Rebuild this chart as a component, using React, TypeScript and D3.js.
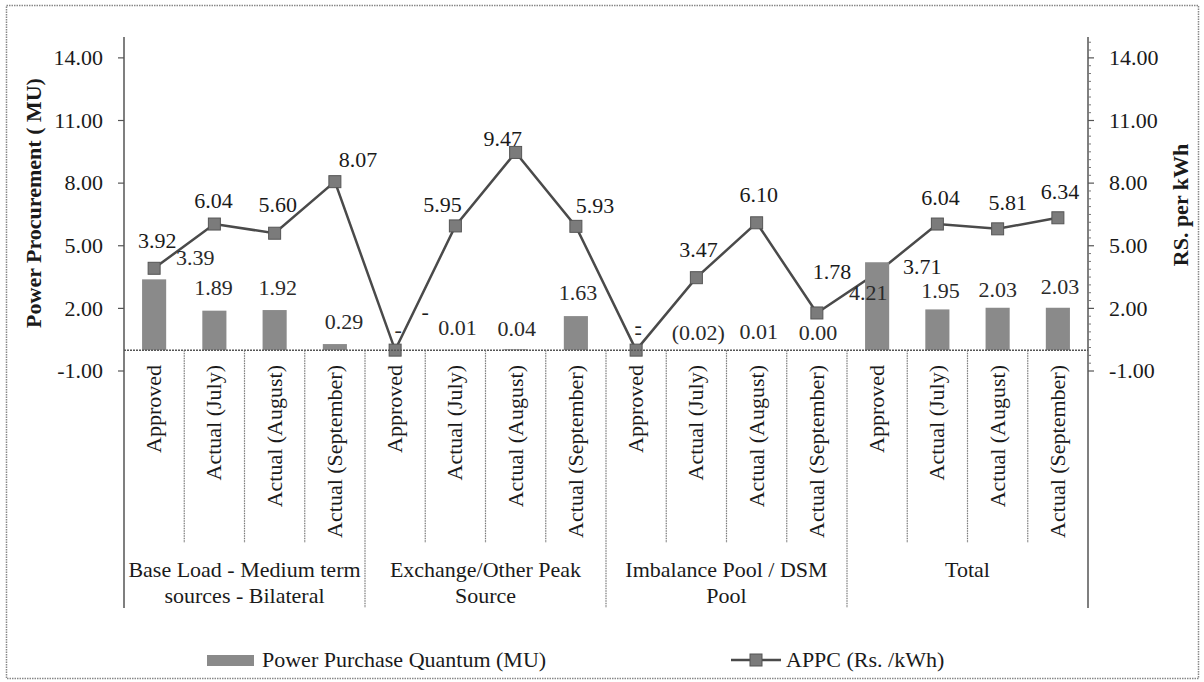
import React from "react";
import * as d3 from "d3";

// ---------- data ----------
const groupLabels: string[][] = [
  ["Base Load - Medium term", "sources - Bilateral"],
  ["Exchange/Other Peak", "Source"],
  ["Imbalance Pool / DSM", "Pool"],
  ["Total"],
];
const periods = ["Approved", "Actual (July)", "Actual (August)", "Actual (September)"];

// Power Purchase Quantum (MU); null = "-"
const quantumMU: (number | null)[] = [
  3.39, 1.89, 1.92, 0.29,
  null, 0.01, 0.04, 1.63,
  null, -0.02, 0.01, 0.0,
  4.21, 1.95, 2.03, 2.03,
];
// APPC (Rs./kWh); null = "-"
const appc: (number | null)[] = [
  3.92, 6.04, 5.6, 8.07,
  null, 5.95, 9.47, 5.93,
  null, 3.47, 6.1, 1.78,
  3.71, 6.04, 5.81, 6.34,
];
const yTicks = [-1, 2, 5, 8, 11, 14];

// label offsets (style: relative placement of data labels, px)
const barLabelOffsets: [number, number][] = [
  [41, -22], [-1, -23], [3, -22], [9, -22],
  [3, -20], [2, -22], [1, -21], [2, -23],
  [2, -18], [2, -17], [2, -18], [1, -17],
  [-9, 30], [3, -19], [0, -18], [2, -21],
];
const lineLabelOffsets: [number, number][] = [
  [3, -28], [-1, -23], [3, -28], [23, -22],
  [30, -38], [-13, -21], [-13, -14], [19, -21],
  [2, -25], [2, -28], [2, -28], [15, -41],
  [45, -6], [3, -26], [10, -26], [2, -26],
];

// ---------- layout ----------
const W = 1204;
const H = 682;
const X0 = 124;
const X1 = 1088;
const FONT = "Liberation Serif, Times New Roman, serif";
const TXT = "#1a1a1a";

const fmt = (v: number | null) =>
  v === null ? "-" : v < 0 ? `(${Math.abs(v).toFixed(2)})` : v.toFixed(2);

export default function App() {
  const keys = groupLabels.flatMap((_, g) => periods.map((_, p) => `${g}-${p}`));
  const x = d3.scaleBand<string>().domain(keys).range([X0, X1]).paddingInner(0.6).paddingOuter(0.3);
  const step = x.step();
  const y = d3.scaleLinear().domain([-1, 15]).range([371, 37]);
  const y0 = y(0);

  const cx = (i: number) => (x(keys[i]) as number) + x.bandwidth() / 2;
  const linePts: [number, number][] = appc.map((v, i) => [cx(i), y(v ?? 0)]);
  const lineGen = d3.line();

  const minorTicks = d3.range(-1, 15.001, 3 / 8).filter((t) => !yTicks.some((m) => Math.abs(m - t) < 1e-6));

  const cellEdges = d3.range(0, keys.length + 1).map((i) => X0 + i * step);
  const ms = 12;

  return (
    <svg width={W} height={H} style={{ position: "absolute", left: 0, top: 0, background: "#fff", fontFamily: FONT }}>
      <rect x={0} y={0} width={W} height={H} fill="#fff" />
      {/* outer border */}
      <rect x={6.5} y={5.5} width={1192} height={673} fill="none" stroke="#888" strokeWidth={1.5} strokeDasharray="1.5,1" />

      {/* line series (drawn under bars) */}
      <path d={lineGen(linePts) || ""} fill="none" stroke="#4a4a4a" strokeWidth={2.5} />
      {linePts.map(([px, py], i) => (
        <rect key={`m${i}`} x={px - ms / 2} y={py - ms / 2} width={ms} height={ms} fill="#7b7b7b" stroke="#555" strokeWidth={1} />
      ))}

      {/* bars */}
      {quantumMU.map((v, i) => {
        const val = v ?? 0;
        const top = Math.min(y(val), y0);
        const h = Math.abs(y(val) - y0);
        return <rect key={`b${i}`} x={x(keys[i])} y={top} width={x.bandwidth()} height={h} fill="#8a8a8a" />;
      })}

      {/* zero line */}
      <line x1={X0} x2={X1} y1={y0} y2={y0} stroke="#555" strokeWidth={1.5} strokeDasharray="2,1" />

      {/* category cell dividers */}
      {cellEdges.map((ex, i) => {
        const isGroup = i % 4 === 0;
        if (i === 0 || i === keys.length) return null;
        return (
          <line key={`d${i}`} x1={ex} x2={ex} y1={y0} y2={isGroup ? 608 : 543} stroke="#777" strokeWidth={1.2} strokeDasharray="1.5,1" />
        );
      })}

      {/* left axis */}
      <line x1={X0} x2={X0} y1={37} y2={608} stroke="#555" strokeWidth={1.5} />
      {yTicks.map((t) => (
        <g key={`lt${t}`}>
          <line x1={X0 - 6} x2={X0} y1={y(t)} y2={y(t)} stroke="#555" strokeWidth={1.2} />
          <text x={103} y={y(t)} dy="0.33em" textAnchor="end" fontSize={22} fill={TXT}>
            {t.toFixed(2)}
          </text>
        </g>
      ))}

      {/* right axis */}
      <line x1={X1} x2={X1} y1={37} y2={608} stroke="#555" strokeWidth={1.5} />
      {minorTicks.map((t, i) => (
        <line key={`rm${i}`} x1={X1} x2={X1 + 3} y1={y(t)} y2={y(t)} stroke="#777" strokeWidth={1} />
      ))}
      {yTicks.map((t) => (
        <g key={`rt${t}`}>
          <line x1={X1} x2={X1 + 6} y1={y(t)} y2={y(t)} stroke="#555" strokeWidth={1.2} />
          <text x={1109} y={y(t)} dy="0.33em" textAnchor="start" fontSize={22} fill={TXT}>
            {t.toFixed(2)}
          </text>
        </g>
      ))}

      {/* axis titles */}
      <text transform={`translate(${41},${203}) rotate(-90)`} textAnchor="middle" fontSize={22} fontWeight="bold" fill={TXT}>
        Power Procurement ( MU)
      </text>
      <text transform={`translate(${1188},${205}) rotate(-90)`} textAnchor="middle" fontSize={22} fontWeight="bold" fill={TXT}>
        RS. per kWh
      </text>

      {/* category labels */}
      {keys.map((k, i) => (
        <text key={`c${i}`} transform={`translate(${cx(i) + 7},${365}) rotate(-90)`} textAnchor="end" fontSize={22} fill={TXT}>
          {periods[i % 4]}
        </text>
      ))}
      {groupLabels.map((lines, g) => {
        const gx = X0 + (g * 4 + 2) * step;
        return (
          <text key={`g${g}`} textAnchor="middle" fontSize={22} fill={TXT}>
            {lines.map((ln, j) => (
              <tspan key={j} x={gx} y={570 + j * 26} dy="0.33em">
                {ln}
              </tspan>
            ))}
          </text>
        );
      })}

      {/* bar labels */}
      {quantumMU.map((v, i) => {
        const top = Math.min(y(v ?? 0), y0);
        const [dx, dy] = barLabelOffsets[i];
        return (
          <text key={`bl${i}`} x={cx(i) + dx} y={top + dy} dy="0.33em" textAnchor="middle" fontSize={22} fill="#2a2a2a">
            {fmt(v)}
          </text>
        );
      })}
      {/* line labels */}
      {appc.map((v, i) => {
        const [dx, dy] = lineLabelOffsets[i];
        return (
          <text key={`ll${i}`} x={linePts[i][0] + dx} y={linePts[i][1] + dy} dy="0.33em" textAnchor="middle" fontSize={22} fill={TXT}>
            {fmt(v)}
          </text>
        );
      })}

      {/* legend */}
      <rect x={207} y={655} width={47} height={11} fill="#8a8a8a" />
      <text x={262} y={660} dy="0.33em" fontSize={22} fill={TXT}>
        Power Purchase Quantum (MU)
      </text>
      <line x1={731} x2={781} y1={660} y2={660} stroke="#4a4a4a" strokeWidth={2.5} />
      <rect x={756 - ms / 2} y={660 - ms / 2} width={ms} height={ms} fill="#7b7b7b" stroke="#555" strokeWidth={1} />
      <text x={786} y={660} dy="0.33em" fontSize={22} fill={TXT}>
        APPC (Rs. /kWh)
      </text>
    </svg>
  );
}
